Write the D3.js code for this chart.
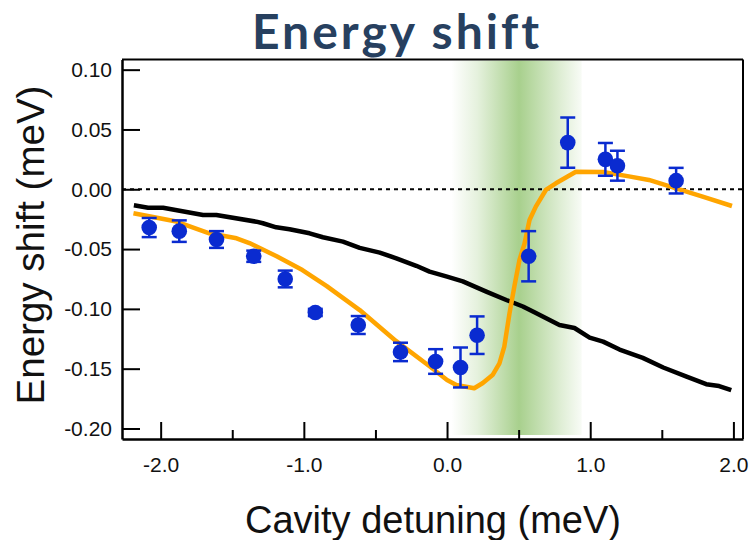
<!DOCTYPE html>
<html>
<head>
<meta charset="utf-8">
<script src="https://cdn.jsdelivr.net/npm/d3@7"></script>
<style>
  html, body { margin: 0; padding: 0; background: #ffffff; }
  svg { display: block; }
</style>
</head>
<body>
<svg id="chart" width="750" height="540"></svg>
<script>
// Measured energy shift (meV) vs cavity detuning (meV), with error bars
const pointDetuning = [-2.08, -1.87, -1.61, -1.35, -1.13, -0.92, -0.62, -0.325, -0.08, 0.094, 0.21, 0.57, 0.843, 1.106, 1.19, 1.60];
const pointShift    = [-0.032, -0.035, -0.042, -0.056, -0.075, -0.103, -0.1135, -0.136, -0.144, -0.149, -0.122, -0.056, 0.039, 0.025, 0.0197, 0.0072];
const pointError    = [0.008, 0.009, 0.007, 0.0047, 0.007, 0.003, 0.0075, 0.0077, 0.0103, 0.0167, 0.0157, 0.021, 0.021, 0.0137, 0.0125, 0.0107];

// Theory curve (orange)
const fitDetuning = [-2.19, -1.89, -1.66, -1.47, -1.38, -1.19, -1.01, -0.84, -0.61, -0.355, -0.122, 0.0, 0.065, 0.19, 0.25, 0.32, 0.366, 0.40, 0.436, 0.47, 0.506, 0.54, 0.576, 0.62, 0.69, 0.76, 0.90, 1.09, 1.27, 1.41, 1.60, 1.785, 1.99];
const fitShift    = [-0.020, -0.027, -0.0368, -0.041, -0.045, -0.056, -0.0675, -0.081, -0.101, -0.127, -0.148, -0.1595, -0.1636, -0.1664, -0.162, -0.155, -0.1455, -0.1316, -0.104, -0.0814, -0.059, -0.046, -0.0257, -0.0145, -0.0006, 0.005, 0.0147, 0.0145, 0.0108, 0.0078, 0.0008, -0.0062, -0.014];

// Reference curve (black)
const refDetuning = [-2.187, -2.088, -1.983, -1.704, -1.611, -1.332, -1.286, -1.193, -1.100, -0.96, -0.867, -0.727, -0.61, -0.47, -0.354, -0.215, -0.122, 0.0, 0.11, 0.274, 0.414, 0.53, 0.60, 0.785, 0.89, 0.996, 1.09, 1.205, 1.367, 1.51, 1.673, 1.81, 1.90, 1.985];
const refShift    = [-0.0134, -0.0154, -0.0154, -0.0215, -0.0215, -0.0271, -0.0284, -0.0318, -0.0334, -0.0368, -0.0401, -0.0438, -0.049, -0.053, -0.0577, -0.064, -0.0689, -0.073, -0.077, -0.0856, -0.0926, -0.098, -0.1023, -0.1135, -0.116, -0.124, -0.1274, -0.134, -0.141, -0.149, -0.1567, -0.163, -0.1645, -0.168];

// Highlighted resonance window
const bandRange = [0.03, 0.94];

// Tick values
const xMajorTicks = [-2, -1, 0, 1, 2];
const xMinorTicks = [-1.5, -0.5, 0.5, 1.5];
const yTicks = [0.10, 0.05, 0.00, -0.05, -0.10, -0.15, -0.20];

const svg = d3.select("#chart");
const plotLeft = 122, plotRight = 743, plotTop = 59.5, plotBottom = 439;

const x = d3.scaleLinear().domain([-2.27, 2.067]).range([plotLeft, plotRight]);
const y = d3.scaleLinear().domain([-0.2088, 0.1085]).range([plotBottom, plotTop]);

// Green gradient band
const defs = svg.append("defs");
const grad = defs.append("linearGradient").attr("id", "bandGrad")
  .attr("x1", "0%").attr("x2", "100%").attr("y1", "0%").attr("y2", "0%");
grad.append("stop").attr("offset", "0%").attr("stop-color", "#a8d08d").attr("stop-opacity", 0);
grad.append("stop").attr("offset", "20%").attr("stop-color", "#a8d08d").attr("stop-opacity", 0.3);
grad.append("stop").attr("offset", "52%").attr("stop-color", "#a8d08d").attr("stop-opacity", 1);
grad.append("stop").attr("offset", "85%").attr("stop-color", "#a8d08d").attr("stop-opacity", 0.35);
grad.append("stop").attr("offset", "100%").attr("stop-color", "#a8d08d").attr("stop-opacity", 0.08);

svg.append("rect")
  .attr("x", x(bandRange[0])).attr("width", x(bandRange[1]) - x(bandRange[0]))
  .attr("y", plotTop + 1).attr("height", plotBottom - plotTop - 5)
  .attr("fill", "url(#bandGrad)");

// Zero line
svg.append("line")
  .attr("x1", plotLeft).attr("x2", plotRight).attr("y1", y(0)).attr("y2", y(0))
  .attr("stroke", "#000").attr("stroke-width", 2).attr("stroke-dasharray", "4,4");

const line = d3.line().x(d => x(d[0])).y(d => y(d[1])).curve(d3.curveLinear);

svg.append("path")
  .datum(refDetuning.map((v, i) => [v, refShift[i]]))
  .attr("d", line).attr("fill", "none")
  .attr("stroke", "#000").attr("stroke-width", 4.5).attr("stroke-linejoin", "round");

svg.append("path")
  .datum(fitDetuning.map((v, i) => [v, fitShift[i]]))
  .attr("d", line).attr("fill", "none")
  .attr("stroke", "#ffa500").attr("stroke-width", 4.5).attr("stroke-linejoin", "round");

// Data points with error bars
const pts = pointDetuning.map((v, i) => ({ x: v, y: pointShift[i], e: pointError[i] }));
const blue = "#0a2bd0";
const g = svg.append("g").selectAll("g").data(pts).join("g");
g.append("line")
  .attr("x1", d => x(d.x)).attr("x2", d => x(d.x))
  .attr("y1", d => y(d.y + d.e)).attr("y2", d => y(d.y - d.e))
  .attr("stroke", blue).attr("stroke-width", 2.5);
g.append("line")
  .attr("x1", d => x(d.x) - 7.5).attr("x2", d => x(d.x) + 7.5)
  .attr("y1", d => y(d.y + d.e)).attr("y2", d => y(d.y + d.e))
  .attr("stroke", blue).attr("stroke-width", 2.5);
g.append("line")
  .attr("x1", d => x(d.x) - 7.5).attr("x2", d => x(d.x) + 7.5)
  .attr("y1", d => y(d.y - d.e)).attr("y2", d => y(d.y - d.e))
  .attr("stroke", blue).attr("stroke-width", 2.5);
g.append("circle")
  .attr("cx", d => x(d.x)).attr("cy", d => y(d.y)).attr("r", 7.8)
  .attr("fill", blue);

// Axes
const yAxis = d3.axisLeft(y).tickValues(yTicks).tickFormat(d3.format(".2f"))
  .tickSizeInner(-18).tickSizeOuter(0).tickPadding(10);
const yG = svg.append("g").attr("transform", `translate(${plotLeft},0)`).call(yAxis);

const xAxis = d3.axisBottom(x).tickValues(xMajorTicks).tickFormat(d3.format(".1f"))
  .tickSizeInner(-17).tickSizeOuter(0).tickPadding(18);
const xG = svg.append("g").attr("transform", `translate(0,${plotBottom})`).call(xAxis);

const xMinor = d3.axisBottom(x).tickValues(xMinorTicks).tickFormat("")
  .tickSizeInner(-9).tickSizeOuter(0);
const xmG = svg.append("g").attr("transform", `translate(0,${plotBottom})`).call(xMinor);
xmG.select(".domain").remove();

[yG, xG, xmG].forEach(a => {
  a.selectAll("line").attr("stroke", "#000").attr("stroke-width", 2);
  a.selectAll(".domain").attr("stroke", "#000").attr("stroke-width", 2.5);
  a.selectAll("text").attr("fill", "#111")
    .style("font-family", "'Liberation Sans', Arial, sans-serif");
});
yG.selectAll("text").style("font-size", "21px");
xG.selectAll("text").style("font-size", "21px");
// Tick labels with a plain hyphen-minus
yG.selectAll("text").text(d => d3.format(".2f")(d).replace("−", "-"));
xG.selectAll("text").text(d => d3.format(".1f")(d).replace("−", "-"));

// Frame top and right
svg.append("line").attr("x1", plotLeft).attr("x2", plotRight).attr("y1", plotTop).attr("y2", plotTop)
  .attr("stroke", "#000").attr("stroke-width", 2);
svg.append("line").attr("x1", plotRight).attr("x2", plotRight).attr("y1", plotTop).attr("y2", plotBottom)
  .attr("stroke", "#000").attr("stroke-width", 2);

// Axis titles
svg.append("text")
  .attr("x", 433).attr("y", 533).attr("text-anchor", "middle")
  .style("font-family", "'Liberation Sans', Arial, sans-serif").style("font-size", "38px")
  .attr("fill", "#111").text("Cavity detuning (meV)");

svg.append("text")
  .attr("transform", "translate(44,245) rotate(-90)").attr("text-anchor", "middle")
  .style("font-family", "'Liberation Sans', Arial, sans-serif").style("font-size", "38.5px")
  .attr("fill", "#111").text("Energy shift (meV)");

// Title
svg.append("text")
  .attr("x", 397).attr("y", 48.5).attr("text-anchor", "middle")
  .style("font-family", "Lato, 'Open Sans', sans-serif").style("font-weight", "700")
  .style("font-size", "48px").style("letter-spacing", "3px")
  .attr("fill", "#27405f").text("Energy shift");
</script>
</body>
</html>
